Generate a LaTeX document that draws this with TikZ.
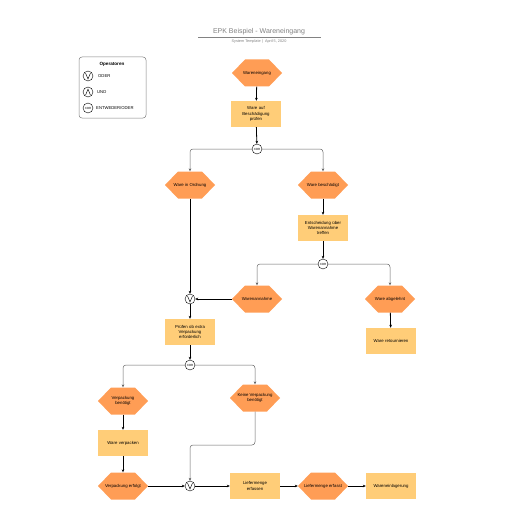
\documentclass[tikz,border=0pt]{standalone}
\usepackage{fontspec}
\setmainfont{Liberation Sans}
\usetikzlibrary{arrows.meta}
\definecolor{evcol}{RGB}{255,157,85}
\definecolor{fncol}{RGB}{255,205,120}
\definecolor{titlegray}{RGB}{130,130,130}
\tikzset{
  evnode/.style={inner sep=0pt, minimum width=50pt, minimum height=27pt, align=center, font=\fontsize{4.3}{5.3}\selectfont},
  fnbox/.style={fill=fncol, inner sep=0pt, minimum width=50pt, minimum height=26pt, text width=47pt, align=center, font=\fontsize{4.3}{5.3}\selectfont},
  opnode/.style={circle, draw=black, line width=0.4pt, fill=white, minimum size=10pt, inner sep=0pt},
  mainline/.style={line width=0.8pt, draw=black, -{Stealth[length=3pt,width=2.6pt]}},
  branch/.style={line width=0.5pt, draw=gray!80!black, rounded corners=3pt, -{Stealth[length=3pt,width=2.6pt,fill=black]}},
  lbl/.style={font=\fontsize{4.2}{5}\selectfont, anchor=west, inner sep=0pt}
}
\newcommand\evhex[4]{%
  \fill[evcol] ({#2-25},#3) -- ({#2-12},{#3-13.5}) -- ({#2+12},{#3-13.5}) -- ({#2+25},#3) -- ({#2+12},{#3+13.5}) -- ({#2-12},{#3+13.5}) -- cycle;
  \node[evnode] (#1) at (#2,#3) {#4};}
\newcommand\orop[3]{\node[opnode] (#1) at (#2,#3) {};
  \draw[line width=0.45pt] ({#2-2.4},{#3-2.8}) -- (#2,{#3+3}) -- ({#2+2.4},{#3-2.8});}
\newcommand\andop[3]{\node[opnode] (#1) at (#2,#3) {};
  \draw[line width=0.45pt] ({#2-2.4},{#3+3}) -- (#2,{#3-2.8}) -- ({#2+2.4},{#3+3});}
\newcommand\xorop[3]{\node[opnode, font=\fontsize{3}{3}\selectfont] (#1) at (#2,#3) {XOR};}
\begin{document}
\begin{tikzpicture}[x=1pt,y=-1pt]
\useasboundingbox[fill=white] (0,0) rectangle (516,516);
% title
\node[text=titlegray, font=\fontsize{7}{8}\selectfont] (title) at (259,32) {EPK Beispiel - Wareneingang};
\draw[titlegray, line width=0.6pt] (198,37) -- (321,37);
\node[text=titlegray, font=\fontsize{3.8}{4}\selectfont] (sub) at (259,42) {System Template \,|\, April 5, 2020};
% legend
\draw[gray, line width=0.5pt, rounded corners=3pt] (79,57) rectangle (146,118);
\node[font=\bfseries\fontsize{4.6}{5}\selectfont] (legt) at (112,64) {Operatoren};
\orop{lo}{88}{76}
\node[lbl] (lot) at (98,76) {ODER};
\andop{la}{88}{92}
\node[lbl] (lat) at (97,92) {UND};
\xorop{lx}{88}{108}
\node[lbl] (lxt) at (96,108) {ENTWEDER/ODER};
% nodes
\evhex{e1}{257}{73}{Wareneingang}
\node[fnbox] (f1) at (256,114) {Ware auf\\Beschädigung\\prüfen};
\xorop{x1}{257}{149}
\evhex{e2}{190}{185}{Ware in Ordnung}
\evhex{e3}{323}{185}{Ware beschädigt}
\node[fnbox] (f2) at (323,228) {Entscheidung über\\Warenannahme\\treffen};
\xorop{x2}{323}{264}
\evhex{e4}{257}{299}{Warenannahme}
\evhex{e5}{390}{299}{Ware abgelehnt}
\node[fnbox] (f3) at (391,341) {Ware retournieren};
\orop{o1}{190}{299}
\node[fnbox] (f4) at (190,332) {Prüfen ob extra\\Verpackung\\erforderlich};
\xorop{x3}{190}{365}
\evhex{e6}{123}{401}{Verpackung\\benötigt}
\evhex{e7}{255}{398}{Keine Verpackung\\benötigt}
\node[fnbox] (f5) at (123,443) {Ware verpacken};
\evhex{e8}{123}{486}{Verpackung erfolgt}
\orop{o2}{190}{486}
\node[fnbox] (f6) at (255,486) {Liefermenge\\erfassen};
\evhex{e9}{323}{486}{Liefermenge erfasst}
\node[fnbox] (f7) at (391,486) {Wareneinlagerung};
% connectors
\draw[mainline] (e1) -- (f1);
\draw[mainline] (f1) -- (x1);
\draw[branch] (x1.west) -| (e2.north);
\draw[branch] (x1.east) -| (e3.north);
\draw[mainline] (e2) -- (o1);
\draw[mainline] (e3) -- (f2);
\draw[mainline] (f2) -- (x2);
\draw[branch] (x2.west) -| (e4.north);
\draw[branch] (x2.east) -| (e5.north);
\draw[mainline] (e4.west) -- (o1.east);
\draw[mainline] (e5) -- (f3);
\draw[mainline] (o1) -- (f4);
\draw[mainline] (f4) -- (x3);
\draw[branch] (x3.west) -| (e6.north);
\draw[branch] (x3.east) -| (e7.north);
\draw[mainline] (e6) -- (f5);
\draw[mainline] (f5) -- (e8);
\coordinate (bend) at (255,445);
\draw[branch] (e7.south) -- (bend) -| (o2.north);
\draw[mainline] (e8.east) -- (o2.west);
\draw[mainline] (o2.east) -- (f6.west);
\draw[mainline] (f6.east) -- (e9.west);
\draw[mainline] (e9.east) -- (f7.west);
\end{tikzpicture}
\end{document}
